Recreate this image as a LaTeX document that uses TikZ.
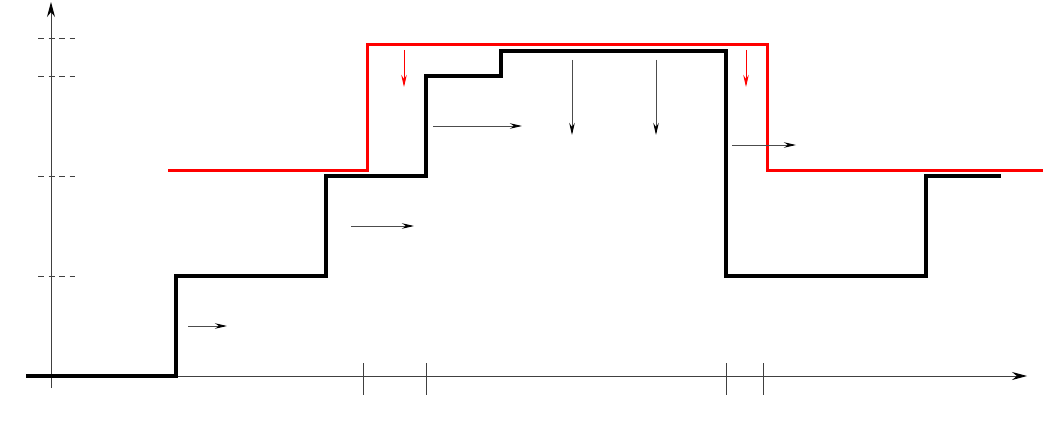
\documentclass[tikz,border=0pt]{standalone}
\usetikzlibrary{arrows.meta}
\begin{document}
\begin{tikzpicture}[x=1pt,y=-1pt,
  axis/.style={line width=0.9pt,black!75},
  axtip/.style={-{Stealth[length=15pt,width=8pt,black]}},
  thin arrow/.style={line width=0.9pt,black!70,-{Stealth[length=12pt,width=5.5pt,black]}},
  red arrow/.style={line width=0.9pt,red,-{Stealth[length=12pt,width=5.5pt]}},
  tick/.style={line width=0.9pt,black!75},
  dtick/.style={line width=0.9pt,black!75,dash pattern=on 6pt off 4.5pt},
  blackpath/.style={line width=3.6pt,black},
  redpath/.style={line width=3pt,red}]
\useasboundingbox (0,0) rectangle (1046,436);
% axes
\draw[axis,axtip] (51,388) -- (51,2);
\draw[axis,axtip] (26,376) -- (1027,376);
% dashed y ticks
\foreach \yy in {38,76,176,276} \draw[dtick] (38,\yy) -- (75,\yy);
% x ticks
\foreach \xx in {363,426,726,763} \draw[tick] (\xx,363) -- (\xx,395);
% black path
\draw[blackpath] (26,376) -- (176,376) -- (176,276) -- (326,276) -- (326,176) -- (426,176)
  -- (426,76) -- (501,76) -- (501,51) -- (726,51) -- (726,276) -- (926,276) -- (926,176) -- (1001,176);
% red path
\draw[redpath] (168,170) -- (367,170) -- (367,45) -- (767,45) -- (767,170) -- (1043,170);
% small arrows
\draw[thin arrow] (188,326) -- (227,326);
\draw[thin arrow] (351,226) -- (414,226);
\draw[thin arrow] (433,126) -- (522,126);
\draw[thin arrow] (732,145) -- (796,145);
\draw[thin arrow] (572,60) -- (572,135);
\draw[thin arrow] (656,60) -- (656,135);
\draw[red arrow] (404,50) -- (404,87);
\draw[red arrow] (746,50) -- (746,87);
\end{tikzpicture}
\end{document}
